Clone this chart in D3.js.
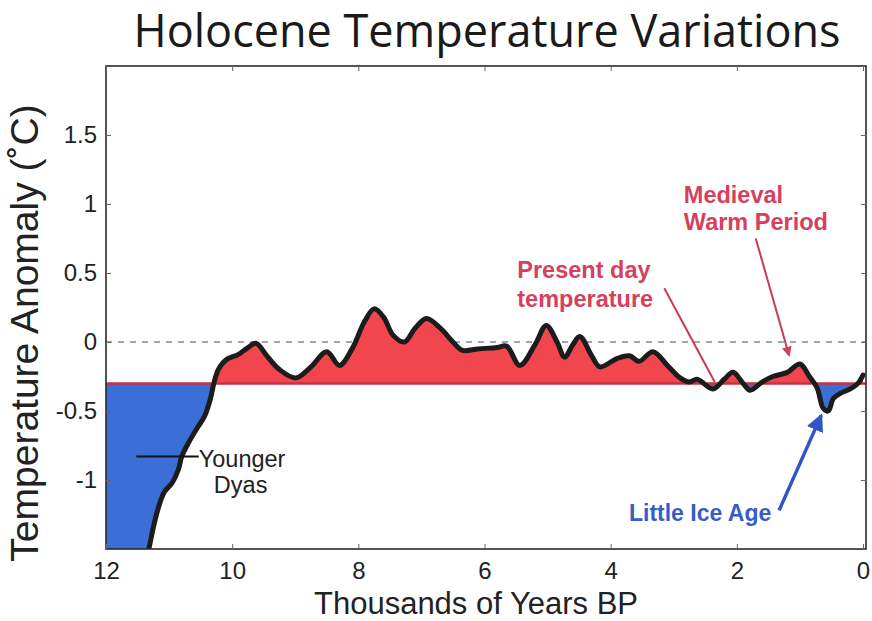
<!DOCTYPE html>
<html>
<head>
<meta charset="utf-8">
<script src="https://cdn.jsdelivr.net/npm/d3@7"></script>
<style>
  html, body { margin: 0; padding: 0; background: #fff; }
  svg { display: block; }
</style>
</head>
<body>
<svg id="chart" width="872" height="621"></svg>
<script>
// ---- data ----
const years = [12.0, 11.4, 11.32, 11.2, 11.08, 10.95, 10.85, 10.8, 10.68, 10.55, 10.44, 10.35, 10.29, 10.22, 10.1,
  9.9, 9.75, 9.62, 9.45, 9.25, 8.99, 8.75, 8.5, 8.3, 8.1, 7.9, 7.75, 7.6, 7.45, 7.27, 7.1, 6.92, 6.7, 6.5, 6.35,
  6.1, 5.8, 5.65, 5.44, 5.2, 5.02, 4.85, 4.73, 4.6, 4.49, 4.3, 4.17, 3.9, 3.7, 3.55, 3.33, 3.1, 2.9, 2.75, 2.63,
  2.38, 2.2, 2.06, 1.9, 1.79, 1.6, 1.43, 1.2, 1.0, 0.85, 0.73, 0.63, 0.55, 0.47, 0.35, 0.2, 0.08, 0.0];
const anomaly = [-2.0, -1.7, -1.5, -1.25, -1.09, -1.02, -0.92, -0.83, -0.72, -0.62, -0.54, -0.42, -0.30, -0.2, -0.13,
  -0.09, -0.04, -0.01, -0.1, -0.2, -0.26, -0.18, -0.07, -0.17, -0.05, 0.15, 0.24, 0.18, 0.05, 0.0, 0.1, 0.17, 0.1, 0.0, -0.06,
  -0.05, -0.04, -0.03, -0.17, -0.02, 0.12, 0.0, -0.11, -0.02, 0.04, -0.1, -0.18, -0.12, -0.1, -0.14, -0.07, -0.17, -0.26, -0.29, -0.27,
  -0.34, -0.27, -0.22, -0.3, -0.35, -0.29, -0.25, -0.22, -0.16, -0.25, -0.33, -0.48, -0.5, -0.41, -0.37, -0.34, -0.3, -0.24];
const baselineValue = -0.3;
const xTicks = [12, 10, 8, 6, 4, 2, 0];
const yTicks = [-1, -0.5, 0, 0.5, 1, 1.5];
const yTickLabels = ["-1", "-0.5", "0", "0.5", "1", "1.5"];
const titleText = "Holocene Temperature Variations";
const xLabelText = "Thousands of Years BP";
const yLabelText = "Temperature Anomaly (\u02DAC)";

// ---- layout ----
const svg = d3.select("#chart");
const pL = 106, pR = 866, pT = 66, pB = 549;
const x = d3.scaleLinear().domain([12, 0]).range([106, 863]);
const y = d3.scaleLinear().domain([-1.5, 2]).range([pB, pT]);
const data = years.map((yr, i) => ({ yr, v: anomaly[i] }));

const defs = svg.append("defs");
defs.append("clipPath").attr("id", "plotClip").append("rect")
  .attr("x", pL).attr("y", pT).attr("width", pR - pL).attr("height", pB - pT);
defs.append("clipPath").attr("id", "aboveClip").append("rect")
  .attr("x", pL).attr("y", pT).attr("width", pR - pL).attr("height", y(baselineValue) - pT);
defs.append("clipPath").attr("id", "belowClip").append("rect")
  .attr("x", pL).attr("y", y(baselineValue)).attr("width", pR - pL).attr("height", pB - y(baselineValue));
const mk = (id, color) => {
  defs.append("marker").attr("id", id).attr("viewBox", "0 0 10 10").attr("refX", 9).attr("refY", 5)
    .attr("markerWidth", 5).attr("markerHeight", 5).attr("orient", "auto")
    .append("path").attr("d", "M0,0 L10,5 L0,10 z").attr("fill", color);
};
mk("arrRed", "#d0405a");
mk("arrBlue", "#2f55c8");

// title
svg.append("text").attr("x", 487).attr("y", 47).attr("text-anchor", "middle")
  .attr("font-family", "Open Sans, Noto Sans, sans-serif").attr("font-size", 45).attr("fill", "#1a1a1a")
  .text(titleText);

// zero dashed line
svg.append("line").attr("x1", pL).attr("x2", pR).attr("y1", y(0)).attr("y2", y(0))
  .attr("stroke", "#7f8b99").attr("stroke-width", 1.5).attr("stroke-dasharray", "6,6");

const curve = d3.curveCatmullRom.alpha(0.5);
const area = d3.area().x(d => x(d.yr)).y0(y(baselineValue)).y1(d => y(d.v)).curve(curve);
const line = d3.line().x(d => x(d.yr)).y(d => y(d.v)).curve(curve);

const g = svg.append("g").attr("clip-path", "url(#plotClip)");
g.append("g").attr("clip-path", "url(#aboveClip)").append("path").attr("d", area(data)).attr("fill", "#f2464f");
g.append("g").attr("clip-path", "url(#belowClip)").append("path").attr("d", area(data)).attr("fill", "#3b6ed6");
g.append("line").attr("x1", pL).attr("x2", pR).attr("y1", y(baselineValue)).attr("y2", y(baselineValue))
  .attr("stroke", "#c8323f").attr("stroke-width", 2.5);
g.append("path").attr("d", line(data)).attr("fill", "none").attr("stroke", "#1c1c1c")
  .attr("stroke-width", 5).attr("stroke-linejoin", "round").attr("stroke-linecap", "round");

// frame
svg.append("rect").attr("x", pL).attr("y", pT).attr("width", pR - pL).attr("height", pB - pT)
  .attr("fill", "none").attr("stroke", "#2a2a2a").attr("stroke-width", 1.6);

// axes (inward ticks)
const axB = svg.append("g").attr("transform", `translate(0,${pB})`)
  .call(d3.axisBottom(x).tickValues(xTicks).tickSize(-5).tickPadding(13).tickFormat(d3.format("d")));
const axT = svg.append("g").attr("transform", `translate(0,${pT})`)
  .call(d3.axisTop(x).tickValues(xTicks).tickSize(-5).tickFormat(""));
const axL = svg.append("g").attr("transform", `translate(${pL},0)`)
  .call(d3.axisLeft(y).tickValues(yTicks).tickSize(-5).tickPadding(9).tickFormat((d, i) => yTickLabels[i]));
const axR = svg.append("g").attr("transform", `translate(${pR},0)`)
  .call(d3.axisRight(y).tickValues(yTicks).tickSize(-5).tickFormat(""));
[axB, axT, axL, axR].forEach(a => {
  a.select(".domain").remove();
  a.selectAll(".tick line").attr("stroke", "#666");
  a.selectAll("text").attr("font-family", "Liberation Sans, Arial, sans-serif").attr("font-size", 24).attr("fill", "#222");
});
axB.selectAll("text").attr("dy", "0.71em");

// axis labels
svg.append("text").attr("x", 476).attr("y", 614).attr("text-anchor", "middle")
  .attr("font-family", "Liberation Sans, Arial, sans-serif").attr("font-size", 31).attr("fill", "#222")
  .text(xLabelText);
svg.append("text").attr("transform", `translate(38,${333}) rotate(-90)`).attr("text-anchor", "middle")
  .attr("font-family", "Liberation Sans, Arial, sans-serif").attr("font-size", 39).attr("fill", "#222")
  .text(yLabelText);

// ---- annotations (data space) ----
const red = "#d6405c", blue = "#3a5cc8";
const bold = (t, yr, v, color, size) => svg.append("text").attr("x", x(yr)).attr("y", y(v))
  .attr("font-family", "Liberation Sans, Arial, sans-serif").attr("font-weight", "bold")
  .attr("font-size", size).attr("fill", color).text(t);
bold("Present day", 5.48, 0.464, red, 23.5);
bold("temperature", 5.48, 0.254, red, 23.5);
bold("Medieval", 2.84, 1.01, red, 23.5);
bold("Warm Period", 2.84, 0.81, red, 23.5);
bold("Little Ice Age", 3.71, -1.30, blue, 23);

svg.append("line").attr("x1", x(3.15)).attr("y1", y(0.39)).attr("x2", x(2.35)).attr("y2", y(-0.29))
  .attr("stroke", "#c83a55").attr("stroke-width", 2);
svg.append("line").attr("x1", x(1.70)).attr("y1", y(0.75)).attr("x2", x(1.17)).attr("y2", y(-0.10))
  .attr("stroke", "#c83a55").attr("stroke-width", 2).attr("marker-end", "url(#arrRed)");
svg.append("line").attr("x1", x(1.33)).attr("y1", y(-1.22)).attr("x2", x(0.66)).attr("y2", y(-0.53))
  .attr("stroke", "#2f55c8").attr("stroke-width", 3.5).attr("marker-end", "url(#arrBlue)");

// Younger Dryas label
svg.append("line").attr("x1", x(11.52)).attr("x2", x(10.53)).attr("y1", y(-0.83)).attr("y2", y(-0.83))
  .attr("stroke", "#111").attr("stroke-width", 2);
svg.append("text").attr("x", x(10.53)).attr("y", y(-0.906))
  .attr("font-family", "Liberation Sans, Arial, sans-serif").attr("font-size", 23.5).attr("fill", "#222").text("Younger");
svg.append("text").attr("x", x(10.29)).attr("y", y(-1.094))
  .attr("font-family", "Liberation Sans, Arial, sans-serif").attr("font-size", 23.5).attr("fill", "#222").text("Dyas");
</script>
</body>
</html>
